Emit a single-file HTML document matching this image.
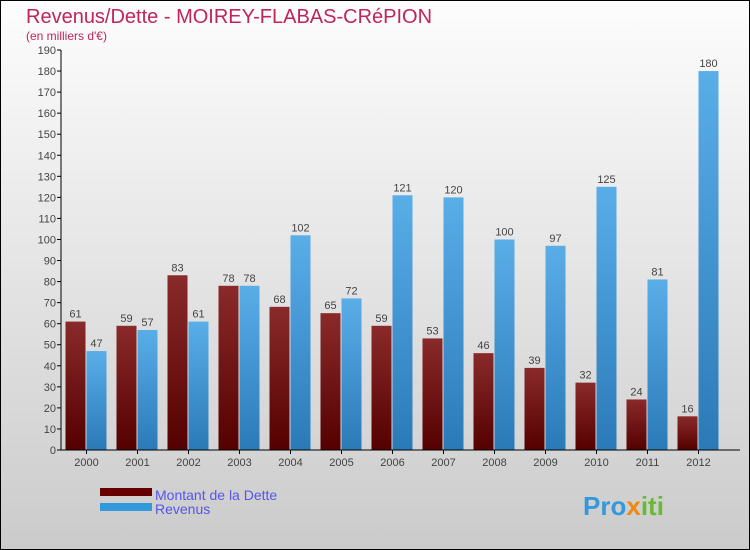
<!DOCTYPE html>
<html><head><meta charset="utf-8"><style>
body{margin:0}
#c{width:750px;height:550px;position:relative;box-sizing:border-box;border:1px solid #000;background:linear-gradient(#fdfdfd,#cbcbcb);font-family:"Liberation Sans",sans-serif;overflow:hidden}
</style></head><body>
<div id="c">
<svg width="750" height="550" style="position:absolute;left:-1px;top:-1px">
<defs>
<linearGradient id="gd" x1="0" y1="0" x2="0" y2="1"><stop offset="0" stop-color="#8a2a2a"/><stop offset="1" stop-color="#550000"/></linearGradient>
<linearGradient id="gr" x1="0" y1="0" x2="0" y2="1"><stop offset="0" stop-color="#5aaee8"/><stop offset="1" stop-color="#2a7ab8"/></linearGradient>
</defs>
<text x="26" y="23" font-size="20" fill="#c0245a">Revenus/Dette - MOIREY-FLABAS-CRéPION</text>
<text x="26" y="40" font-size="12" fill="#c0245a">(en milliers d'€)</text>
<g id="g"></g>
<rect x="100" y="488" width="52" height="8" fill="#660000"/>
<rect x="100" y="503" width="52" height="8" fill="#3399dd"/>
<text x="155" y="500" font-size="14" fill="#5555ee">Montant de la Dette</text>
<text x="155" y="514" font-size="14" fill="#5555ee">Revenus</text>
<text x="583" y="515" font-size="26" font-weight="bold" fill="#3399dd">Pro<tspan fill="#ee8811">x</tspan><tspan fill="#66bb33">iti</tspan></text>
</svg>
</div>
<script>
const years=["2000","2001","2002","2003","2004","2005","2006","2007","2008","2009","2010","2011","2012"];
const dette=[61,59,83,78,68,65,59,53,46,39,32,24,16];
const revenus=[47,57,61,78,102,72,121,120,100,97,125,81,180];
const ticks=[0,10,20,30,40,50,60,70,80,90,100,110,120,130,140,150,160,170,180,190];
const NS="http://www.w3.org/2000/svg";
const g=document.getElementById('g');
const y=v=>450-v*400/190;
const x0=61,band=51,bw=20;
const cx=i=>x0+band*(i+0.5);
function mk(t,a,txt){const e=document.createElementNS(NS,t);for(const k in a)e.setAttribute(k,a[k]);if(txt!=null)e.textContent=txt;g.appendChild(e);return e;}
ticks.forEach(t=>{
const l=mk('line',{x1:57,x2:61,y1:y(t),y2:y(t),stroke:'#000'});


const tx=mk('text',{x:56,y:y(t)+4,'font-size':11,fill:'#444','text-anchor':'end'},t);


});
years.forEach((yr,i)=>{
const c=cx(i);
const b1=mk('rect',{x:c-bw-1,y:y(dette[i]),width:bw,height:450-y(dette[i]),fill:'url(#gd)'});


const b2=mk('rect',{x:c,y:y(revenus[i]),width:bw,height:450-y(revenus[i]),fill:'url(#gr)'});


const v1=mk('text',{x:c-bw/2-1,y:y(dette[i])-4,'font-size':11,fill:'#444','text-anchor':'middle'},dette[i]);


const v2=mk('text',{x:c+bw/2,y:y(revenus[i])-4,'font-size':11,fill:'#444','text-anchor':'middle'},revenus[i]);


const xl=mk('text',{x:c,y:466,'font-size':11,fill:'#444','text-anchor':'middle'},yr);


const xt=mk('line',{x1:c,x2:c,y1:450,y2:454,stroke:'#000'});


});
const ya=mk('line',{x1:61,x2:61,y1:y(190),y2:450,stroke:'#000'});


const xa=mk('line',{x1:61,x2:740,y1:450,y2:450,stroke:'#000'});


</script>
</body></html>
